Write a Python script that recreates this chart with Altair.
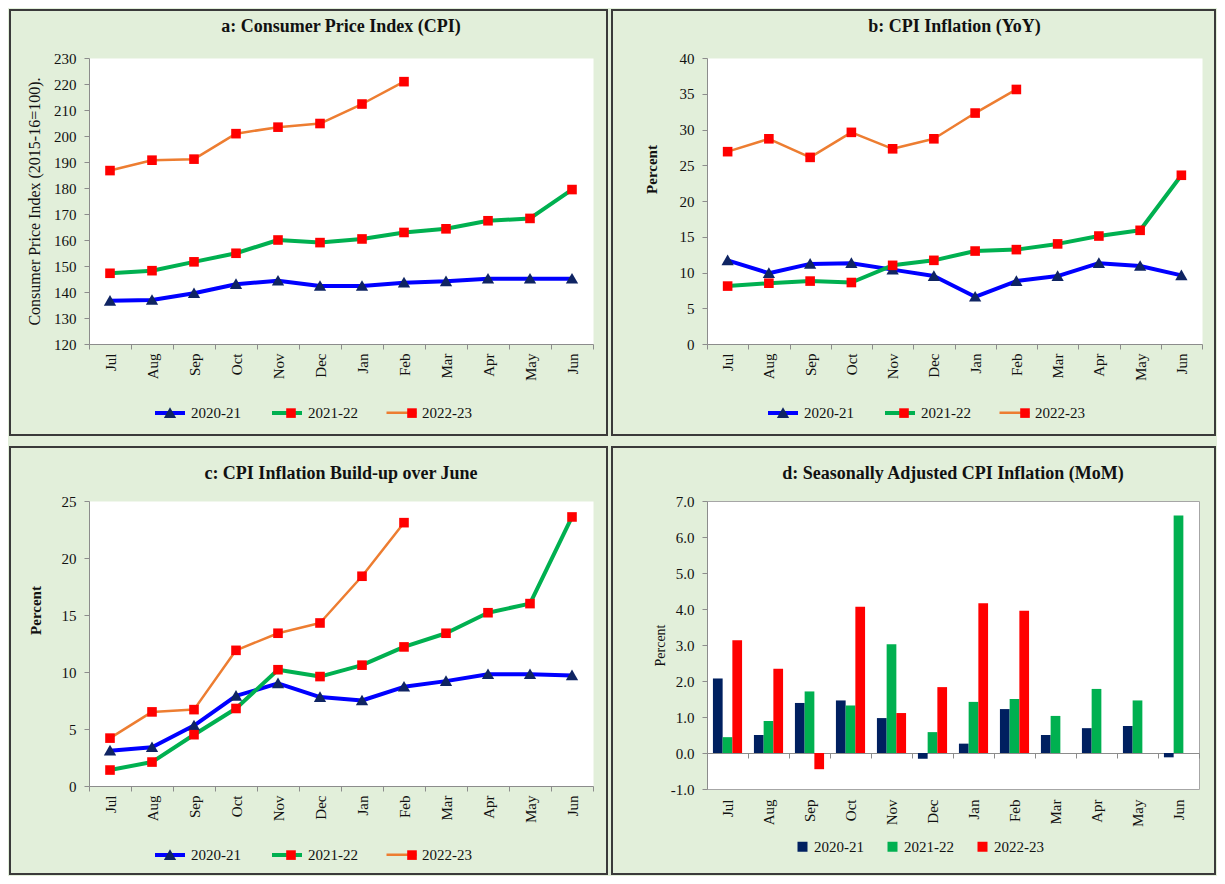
import altair as alt
import pandas as pd

FONT = "Liberation Serif"
TXT = "#111111"
GRAY = "#8c8c8c"

months = ["Jul", "Aug", "Sep", "Oct", "Nov", "Dec", "Jan", "Feb", "Mar", "Apr", "May", "Jun"]
series = ["2020-21", "2021-22", "2022-23"]

# a: Consumer Price Index
cpi_2020 = [136.6, 136.9, 139.5, 143.0, 144.3, 142.3, 142.3, 143.6, 144.1, 145.1, 145.1, 145.1]
cpi_2021 = [147.2, 148.2, 151.6, 154.9, 160.0, 159.0, 160.4, 162.9, 164.3, 167.4, 168.3, 179.4]
cpi_2022 = [186.7, 190.7, 191.1, 200.9, 203.4, 204.8, 212.3, 220.9]

# b: CPI inflation YoY
yoy_2020 = [11.7, 9.9, 11.2, 11.3, 10.4, 9.5, 6.6, 8.8, 9.5, 11.3, 10.9, 9.6]
yoy_2021 = [8.1, 8.5, 8.8, 8.6, 11.0, 11.7, 13.0, 13.2, 14.0, 15.1, 15.9, 23.6]
yoy_2022 = [26.9, 28.7, 26.1, 29.6, 27.3, 28.7, 32.3, 35.6]

# c: build-up over June
bu_2020 = [3.1, 3.4, 5.3, 7.9, 9.0, 7.8, 7.5, 8.7, 9.2, 9.8, 9.8, 9.7]
bu_2021 = [1.4, 2.1, 4.5, 6.8, 10.2, 9.6, 10.6, 12.2, 13.4, 15.2, 16.0, 23.6]
bu_2022 = [4.2, 6.5, 6.7, 11.9, 13.4, 14.3, 18.4, 23.1]

# d: seasonally adjusted MoM
mom_2020 = [2.07, 0.50, 1.39, 1.46, 0.97, -0.16, 0.26, 1.22, 0.50, 0.69, 0.75, -0.12]
mom_2021 = [0.44, 0.89, 1.71, 1.32, 3.02, 0.58, 1.42, 1.50, 1.03, 1.78, 1.46, 6.60]
mom_2022 = [3.13, 2.34, -0.45, 4.06, 1.11, 1.83, 4.16, 3.95]

line_colors = ["#0000FF", "#00B050", "#ED7D31"]
line_widths = [4, 4, 2.5]
marker_colors = ["#0F2463", "#FF0000", "#FF0000"]
bar_colors = ["#002060", "#00B050", "#FF0000"]

# marker shapes; the two lone move-to points give them the same box as the legend line
PAD = "M-1,0M1,0"
TRI = PAD + "M0,-0.39L0.41,0.32L-0.41,0.32Z"
SQ = PAD + "M-0.32,-0.32L0.32,-0.32L0.32,0.32L-0.32,0.32Z"


def long(vals_list):
    rows = []
    for s, vals in zip(series, vals_list):
        for m, v in zip(months, vals):
            rows.append({"month": m, "series": s, "value": v})
    return pd.DataFrame(rows)


def frame(x0, x1, y0, y1):
    return alt.Chart(alt.Data(values=[{"f": 1}])).mark_rect(
        fillOpacity=0, stroke="#3a3a3a", strokeWidth=2
    ).encode(x=alt.value(x0), x2=alt.value(x1), y=alt.value(y0), y2=alt.value(y1))


def xscale():
    return alt.Scale(domain=months, paddingInner=0, paddingOuter=0)


def title_params(text, offset):
    return alt.TitleParams(text, font=FONT, fontSize=18, fontWeight="bold", color=TXT,
                           anchor="middle", offset=offset)


def line_panel(df, title, title_off, ydom, yvals, ytitle, ytitle_bold,
               ytitle_size, ytitle_pad, ytitle_y, w, h, fr, legx, legy):
    yaxis_kw = dict(
        values=yvals, title=ytitle, grid=False, tickSize=5, labelPadding=8,
        domainColor=GRAY, tickColor=GRAY, labelFont=FONT, labelFontSize=15,
        labelColor=TXT, titleFont=FONT, titleFontSize=ytitle_size,
        titleFontWeight="bold" if ytitle_bold else "normal", titleColor=TXT,
        titlePadding=ytitle_pad,
    )
    if ytitle_y is not None:
        yaxis_kw["titleY"] = ytitle_y
    xaxis = alt.Axis(
        title=None, labelAngle=-90, labelFont=FONT, labelFontSize=15,
        labelColor=TXT, tickBand="extent", tickSize=5, tickColor=GRAY,
        domainColor=GRAY, labelPadding=4,
    )
    x = alt.X("month:N", scale=xscale(), axis=xaxis, bandPosition=0.5, sort=months)
    y = alt.Y("value:Q", scale=alt.Scale(domain=ydom, nice=False, zero=False),
              axis=alt.Axis(**yaxis_kw))
    line_leg = alt.Legend(
        orient="none", legendX=legx, legendY=legy, direction="horizontal",
        title=None, symbolType="stroke", symbolSize=900, labelFont=FONT, labelFontSize=15,
        labelColor=TXT, columnPadding=23, labelOffset=4, padding=0, zindex=1,
    )
    mark_leg = alt.Legend(
        orient="none", legendX=legx, legendY=legy, direction="horizontal",
        title=None, symbolSize=900, symbolStrokeWidth=4, symbolStrokeColor="transparent",
        labelExpr="''", labelFont=FONT, labelFontSize=15, columnPadding=75,
        labelOffset=4, padding=0, zindex=2,
    )
    lines = alt.Chart(df).mark_line(strokeJoin="round").encode(
        x=x, y=y,
        stroke=alt.Stroke("series:N", scale=alt.Scale(domain=series, range=line_colors),
                          legend=line_leg),
        strokeWidth=alt.StrokeWidth("series:N",
                                    scale=alt.Scale(type="ordinal", domain=series, range=line_widths),
                                    legend=line_leg),
    )
    pts = alt.Chart(df).mark_point(size=900, filled=True, opacity=1, strokeWidth=0).encode(
        x=x, y=y,
        fill=alt.Fill("series:N", scale=alt.Scale(range=marker_colors), legend=mark_leg),
        shape=alt.Shape("series:N", scale=alt.Scale(range=[TRI, SQ, SQ]), legend=mark_leg),
    )
    return alt.layer(frame(*fr), lines, pts).properties(
        width=w, height=h, title=title_params(title, title_off),
    )


df_a = long([cpi_2020, cpi_2021, cpi_2022])
df_b = long([yoy_2020, yoy_2021, yoy_2022])
df_c = long([bu_2020, bu_2021, bu_2022])
df_d = long([mom_2020, mom_2021, mom_2022])

panel_a = line_panel(
    df_a, "a: Consumer Price Index (CPI)", -27, [120, 230], list(range(120, 231, 10)),
    "Consumer Price Index (2015-16=100).", False, 16, 11, None, 504, 286,
    (-79, 518, -48, 377), 64, 338)
panel_b = line_panel(
    df_b, "b: CPI Inflation (YoY)", -27, [0, 40], list(range(0, 41, 5)),
    "Percent", True, 15, 20, 111, 495, 286,
    (-95, 508, -48, 377), 59, 338)
panel_c = line_panel(
    df_c, "c: CPI Inflation Build-up over June", -37, [0, 25], list(range(0, 26, 5)),
    "Percent", True, 15, 18, 109, 504, 285,
    (-79, 518, -54, 373), 64, 337)

# panel d: bars
xs_d = alt.Scale(domain=months, paddingInner=0, paddingOuter=0)
bars = alt.Chart(df_d).mark_bar().encode(
    x=alt.X("month:N", scale=xs_d, sort=months,
            axis=alt.Axis(title=None, orient="bottom", labelAngle=-90, ticks=False, domain=False,
                          labelPadding=10, labelFont=FONT, labelFontSize=15, labelColor=TXT)),
    xOffset=alt.XOffset("series:N", scale=alt.Scale(domain=series, paddingOuter=0.61, paddingInner=0)),
    y=alt.Y("value:Q", scale=alt.Scale(domain=[-1, 7], nice=False, zero=False),
            axis=alt.Axis(values=list(range(-1, 8)), title="Percent", grid=False, tickSize=5,
                          labelPadding=8, domainColor=GRAY, tickColor=GRAY,
                          labelExpr="replace(format(datum.value, '.1f'), '\u2212', '-')",
                          labelFont=FONT, labelFontSize=15, labelColor=TXT, titleFont=FONT,
                          titleFontSize=14, titleFontWeight="normal", titleColor=TXT,
                          titlePadding=3)),
    color=alt.Color("series:N", scale=alt.Scale(domain=series, range=bar_colors),
                    legend=alt.Legend(orient="none", legendX=88, legendY=338,
                                      direction="horizontal", title=None, symbolType="square",
                                      symbolSize=100, symbolStrokeWidth=0, labelFont=FONT,
                                      labelFontSize=15, labelColor=TXT, columnPadding=21,
                                      labelOffset=4, padding=0)),
)
zero_axis = alt.Chart(df_d).mark_bar(opacity=0).encode(
    x=alt.X("month:N", scale=xs_d, sort=months,
            axis=alt.Axis(title=None, orient="bottom", labels=False, domain=True, ticks=True,
                          tickBand="extent", tickSize=5, offset=-36, domainColor=GRAY,
                          tickColor=GRAY)),
)
panel_d = alt.layer(frame(-95, 508, -54, 373), bars, zero_axis).resolve_axis(x="independent").properties(
    width=492, height=288,
    view=alt.ViewBackground(fill="white", stroke="#a6a6a6", strokeWidth=1),
    title=title_params("d: Seasonally Adjusted CPI Inflation (MoM)", -37),
)

chart = alt.concat(
    panel_a, panel_b, panel_c, panel_d, columns=2,
    spacing={"row": 157, "column": 114}, bounds="flush",
).resolve_scale(
    stroke="independent", strokeWidth="independent", fill="independent",
    shape="independent", color="independent",
).properties(padding=0).configure(background="#E2EFDA", font=FONT).configure_view(
    fill="white", stroke="transparent")

chart.save("out.html", embed_options={"renderer": "svg", "actions": False})
